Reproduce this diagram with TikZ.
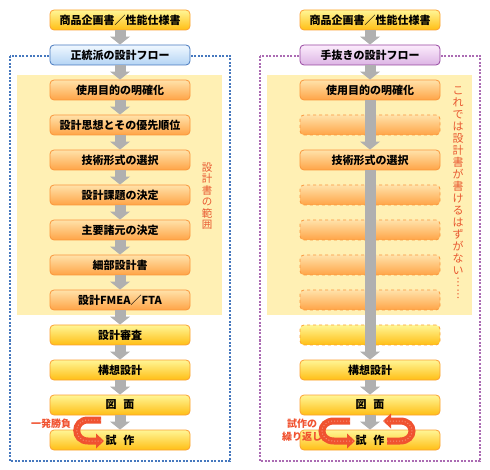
\documentclass[tikz,border=0pt]{standalone}
\usepackage{fontspec}
\setmainfont{Noto Sans CJK JP}
\usepackage{tikz}
\usetikzlibrary{arrows.meta, positioning}

\definecolor{orangeline}{RGB}{250,150,60}
\definecolor{orangetop}{RGB}{255,226,170}
\definecolor{orangebot}{RGB}{255,164,70}
\definecolor{yellowline}{RGB}{252,160,50}
\definecolor{yellowtop}{RGB}{255,246,150}
\definecolor{yellowbot}{RGB}{255,190,20}
\definecolor{blueline}{RGB}{70,120,190}
\definecolor{bluetop}{RGB}{240,248,255}
\definecolor{bluebot}{RGB}{180,212,244}
\definecolor{purpleline}{RGB}{150,70,160}
\definecolor{purpletop}{RGB}{252,236,252}
\definecolor{purplebot}{RGB}{220,180,228}
\definecolor{scopefill}{RGB}{255,240,180}
\definecolor{arrowgray}{RGB}{176,176,176}
\definecolor{loopred}{RGB}{240,82,48}
\definecolor{notered}{RGB}{232,88,48}

\tikzset{
  stepbase/.style={rounded corners=4pt, minimum width=140pt, minimum height=20pt,
    inner sep=0pt, line width=0.8pt, text=black,
    font=\fontsize{11}{12}\selectfont\bfseries},
  orangebox/.style={stepbase, draw=orangeline, top color=orangetop, bottom color=orangebot},
  yellowbox/.style={stepbase, draw=yellowline, top color=yellowtop, bottom color=yellowbot},
  bluebox/.style={stepbase, draw=blueline, top color=bluetop, bottom color=bluebot},
  purplebox/.style={stepbase, draw=purpleline, top color=purpletop, bottom color=purplebot},
  emptybox/.style={orangebox, dashed},
  emptyyellow/.style={yellowbox, dashed},
  flowarrow/.style={draw=arrowgray, line width=11pt,
    -{Triangle[width=20pt,length=8pt,line width=0pt]}},
  looparrow/.style={draw=loopred, line width=7pt,
    -{Triangle[width=15pt,length=8pt,line width=0pt]},
    postaction={draw=white, opacity=0.35, line width=1pt, dash pattern=on 1pt off 2pt, -}},
  vtext/.style={align=center, inner sep=0pt, text=notered},
  redlabel/.style={align=center, inner sep=0pt, text=loopred,
    font=\fontsize{10}{13}\selectfont\bfseries}
}

\begin{document}
\begin{tikzpicture}[x=1pt, y=-1pt]
\useasboundingbox (0,0) rectangle (490,470);

% frames and scope areas
\draw[blueline, line width=1.5pt, dash pattern=on 2pt off 1.5pt] (10,56) rectangle (230,461);
\draw[purpleline!80, line width=1.5pt, dash pattern=on 2pt off 1.5pt] (260,56) rectangle (480,461);
\fill[scopefill] (17,75) rectangle (222,315);
\fill[scopefill] (267,75) rectangle (472,315);

% left flow
\foreach \sty/\txt [count=\i] in {yellowbox/商品企画書／性能仕様書, bluebox/正統派の設計フロー,
    orangebox/使用目的の明確化, orangebox/設計思想とその優先順位, orangebox/技術形式の選択,
    orangebox/設計課題の決定, orangebox/主要諸元の決定, orangebox/細部設計書,
    orangebox/設計FMEA／FTA, yellowbox/設計審査, yellowbox/構想設計,
    yellowbox/図\hspace{0.6em}面, yellowbox/試\hspace{0.6em}作}
  \node[\sty] (L\i) at (120,{20+35*(\i-1)}) {\txt};

% right flow
\foreach \sty/\txt [count=\i] in {yellowbox/商品企画書／性能仕様書, purplebox/手抜きの設計フロー,
    orangebox/使用目的の明確化, emptybox/, orangebox/技術形式の選択,
    emptybox/, emptybox/, emptybox/, emptybox/, emptyyellow/, yellowbox/構想設計,
    yellowbox/図\hspace{0.6em}面, yellowbox/試\hspace{0.6em}作}
  \node[\sty] (R\i) at (370,{20+35*(\i-1)}) {\txt};

% gray arrows
\foreach \i in {1,...,12}{
  \pgfmathtruncatemacro{\j}{\i+1}
  \draw[flowarrow] (L\i.south) -- (L\j.north);
}
\foreach \i/\j in {1/2, 2/3, 3/5, 5/11, 11/12, 12/13}
  \draw[flowarrow] (R\i.south) -- (R\j.north);

% scope labels
\node[vtext, font=\fontsize{10.5}{11.5}\selectfont] (scopenote) at (207,196)
  {設\\計\\書\\の\\範\\囲};
\node[vtext, font=\fontsize{11}{12}\selectfont] (lament) at (458,193)
  {こ\\れ\\で\\は\\設\\計\\書\\が\\書\\け\\る\\は\\ず\\が\\な\\い\\︙\\︙};

% one-shot loop
\coordinate (oneshotin) at (101,420);
\coordinate (oneshotout) at (104,441);
\draw[looparrow] (oneshotin) -- (88,420) .. controls (73,420) and (73,441) .. (88,441) -- (oneshotout);
\node[redlabel] (oneshot) at (51,424) {一発勝負};

% repeated trials
\coordinate (retryin) at (350,421);
\coordinate (retryout) at (355,441);
\coordinate (backin) at (387,441);
\coordinate (backout) at (383,421);
\draw[looparrow] (retryin) -- (334,421) .. controls (318,421) and (318,441) .. (334,441) -- (retryout);
\draw[looparrow] (backin) -- (400,441) .. controls (416,441) and (416,421) .. (400,421) -- (backout);
\node[redlabel] (retry) at (302,430) {試作の\\繰り返し};
\end{tikzpicture}
\end{document}
